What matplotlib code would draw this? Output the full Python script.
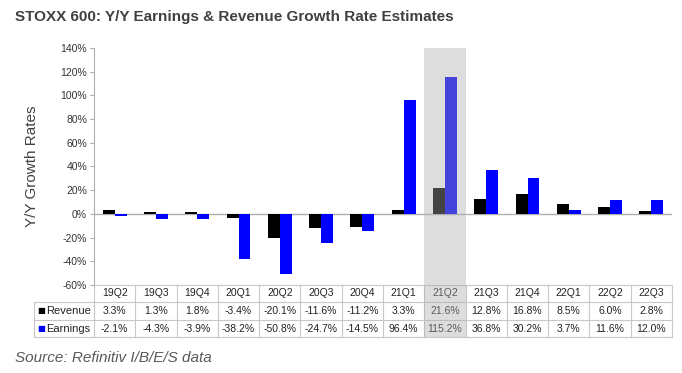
import matplotlib
matplotlib.use("Agg")
import matplotlib.pyplot as plt
from matplotlib.patches import Rectangle
import matplotlib.transforms as mtrans

plt.rcParams['font.family'] = ['Liberation Sans', 'DejaVu Sans']

quarters = ["19Q2", "19Q3", "19Q4", "20Q1", "20Q2", "20Q3", "20Q4",
            "21Q1", "21Q2", "21Q3", "21Q4", "22Q1", "22Q2", "22Q3"]
revenue = [3.3, 1.3, 1.8, -3.4, -20.1, -11.6, -11.2, 3.3, 21.6, 12.8, 16.8, 8.5, 6.0, 2.8]
earnings = [-2.1, -4.3, -3.9, -38.2, -50.8, -24.7, -14.5, 96.4, 115.2, 36.8, 30.2, 3.7, 11.6, 12.0]
series_names = ["Revenue", "Earnings"]
series_colors = ["#000000", "#0000FF"]
highlight = "21Q2"
yticks = list(range(-60, 141, 20))

W, H = 682, 373
fig = plt.figure(figsize=(W / 100, H / 100), dpi=100)
ax_l, ax_r, ax_t, ax_b = 94, 672, 48, 285
ax = fig.add_axes([ax_l / W, 1 - ax_b / H, (ax_r - ax_l) / W, (ax_b - ax_t) / H])

n = len(quarters)
x = list(range(n))
bw = 0.29
ax.bar([i - bw / 2 for i in x], revenue, width=bw, color=series_colors[0], zorder=2)
ax.bar([i + bw / 2 for i in x], earnings, width=bw, color=series_colors[1], zorder=2)
ax.axhline(0, color="#b0b0b0", lw=1, zorder=1)

ax.set_xlim(-0.5, n - 0.5)
ax.set_ylim(-60, 140)
ax.set_yticks(yticks)
ax.set_yticklabels([f"{v}%" for v in yticks], fontsize=7.5, color="#333333")
ax.set_xticks([])
for s in ["top", "right", "bottom"]:
    ax.spines[s].set_visible(False)
ax.spines["left"].set_color("#b0b0b0")
ax.tick_params(axis="y", length=3, color="#b0b0b0", pad=2)
fig.text(32 / W, 1 - 166 / H, "Y/Y Growth Rates", rotation=90, fontsize=11,
         color="#404040", ha="center", va="center")

# table below axes
axh = ax_b - ax_t
row_px = [285, 302, 320, 337]
row_y = [-(r - ax_b) / axh for r in row_px]
trans = mtrans.blended_transform_factory(ax.transData, ax.transAxes)
grid_c = "#c8c8c8"
lbl_left = (34 - ax_l) / (ax_r - ax_l)
for k, yy in enumerate(row_y):
    if k == 0:
        ax.plot([-0.5, n - 0.5], [yy, yy], transform=trans, color=grid_c, lw=0.8, clip_on=False)
    else:
        ax.plot([lbl_left, 1], [yy, yy], transform=ax.transAxes, color=grid_c, lw=0.8, clip_on=False)
for i in range(n + 1):
    ax.plot([i - 0.5, i - 0.5], [row_y[0], row_y[-1]], transform=trans, color=grid_c, lw=0.8, clip_on=False)
ax.plot([lbl_left, lbl_left], [row_y[1], row_y[-1]], transform=ax.transAxes, color=grid_c, lw=0.8, clip_on=False)

fs = 7.5
tc = "#222222"
for i, q in enumerate(quarters):
    ax.text(i, (row_y[0] + row_y[1]) / 2, q, transform=trans, ha="center", va="center", fontsize=fs, color=tc)
    ax.text(i, (row_y[1] + row_y[2]) / 2, f"{revenue[i]:.1f}%", transform=trans, ha="center", va="center", fontsize=fs, color=tc)
    ax.text(i, (row_y[2] + row_y[3]) / 2, f"{earnings[i]:.1f}%", transform=trans, ha="center", va="center", fontsize=fs, color=tc)

for k, (name, col) in enumerate(zip(series_names, series_colors)):
    yy = (row_y[k + 1] + row_y[k + 2]) / 2
    ax.text(lbl_left + 0.006, yy, "■", transform=ax.transAxes, ha="left", va="center",
            fontsize=6, color=col, family="DejaVu Sans")
    ax.text(lbl_left + 0.021, yy, name, transform=ax.transAxes, ha="left", va="center",
            fontsize=fs + 0.5, color=tc)

hi = quarters.index(highlight)
band = Rectangle((hi - 0.5, row_y[-1]), 1, 1 - row_y[-1], transform=trans,
                 facecolor="#acacac", alpha=0.4, edgecolor="none", zorder=10, clip_on=False)
ax.add_patch(band)

fig.text(15 / W, 1 - 17 / H, "STOXX 600: Y/Y Earnings & Revenue Growth Rate Estimates",
         fontsize=11, fontweight="bold", color="#404040", ha="left", va="center")
fig.text(15 / W, 1 - 358 / H, "Source: Refinitiv I/B/E/S data", fontsize=11,
         style="italic", color="#595959", ha="left", va="center")

fig.savefig("out.png", dpi=100)
